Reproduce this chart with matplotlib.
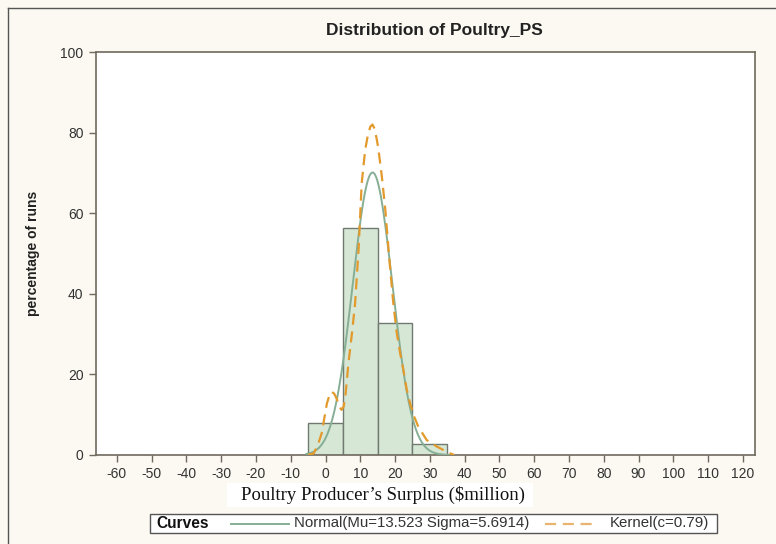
import numpy as np
import matplotlib
matplotlib.use("Agg")
from matplotlib import pyplot as plt
from matplotlib.patches import Rectangle
from matplotlib.lines import Line2D

plt.rcParams['axes.unicode_minus'] = False

# histogram (percent of runs per 10-unit bin)
bin_centers = [0, 10, 20, 30]
pct = [8.0, 56.4, 32.8, 2.8]
bin_width = 10

# fitted normal
mu = 13.523
sigma = 5.6914

# kernel curve
kern_x = [-5.0, -3.4, -2.2, -1.1, 0.4, 1.2, 1.8, 2.5, 3.2, 4.0, 4.6, 5.2, 5.7, 6.6,
          7.6, 8.5, 9.5, 10.4, 11.4, 12.2, 12.9, 13.5, 14.1, 14.7, 15.2, 16.2,
          17.2, 18.3, 19.5, 20.5, 21.4, 22.4, 23.3, 24.3, 25.5, 26.7, 29.1, 32.0,
          35.3, 37.0]
kern_y = [0.0, 0.4, 2.5, 5.4, 12.8, 15.0, 15.7, 15.2, 14.0, 12.0, 11.2, 12.0, 14.5, 22.8,
          30.2, 37.6, 50.9, 67.4, 75.7, 79.5, 81.5, 82.0, 81.0, 78.5, 76.0, 69.1,
          60.8, 49.0, 37.6, 30.2, 25.5, 21.1, 16.5, 12.8, 9.5, 7.0, 3.7, 2.1,
          0.6, 0.0]

xticks = list(range(-60, 121, 10))
yticks = list(range(0, 101, 20))

bg = '#fcf9f2'
W, H = 776, 544
fig = plt.figure(figsize=(W / 100, H / 100), dpi=100, facecolor=bg)
ax = fig.add_axes([96 / W, 1 - 455 / H, (755 - 96) / W, (455 - 52) / H])
ax.set_facecolor('white')

ax.bar(bin_centers, pct, width=bin_width, color='#d6e7d6', edgecolor='#707a70',
       linewidth=1.0, zorder=2)

xn = np.linspace(-5.5, 35.5, 400)
yn = 100 * bin_width * np.exp(-0.5 * ((xn - mu) / sigma) ** 2) / (sigma * np.sqrt(2 * np.pi))
ax.plot(xn, yn, color='#86ae94', linewidth=1.4, zorder=3)
ax.plot(kern_x, kern_y, color='#e39a2c', linewidth=1.6, linestyle=(0, (5, 3)), zorder=4)

ax.set_xlim(-66.0, 123.5)
ax.set_ylim(0, 100)
ax.set_xticks(xticks)
ax.set_yticks(yticks)
ax.tick_params(direction='out', length=5, width=1, color='#6e6a5e',
               labelsize=10, labelcolor='#333333')
ax.tick_params(axis='x', pad=4)
ax.tick_params(axis='y', pad=4)
for lab in ax.get_xticklabels() + ax.get_yticklabels():
    lab.set_family('Liberation Sans')
for s in ax.spines.values():
    s.set_color('#6e6a5e')
    s.set_linewidth(1.2)

fig.text(434 / W, 1 - 30 / H, 'Distribution of Poultry_PS', ha='center', va='center',
         fontsize=12.5, fontweight='bold', family='Liberation Sans', color='#222222')
fig.text(33 / W, 1 - 253 / H, 'percentage of runs', rotation=90, ha='center', va='center',
         fontsize=10, fontweight='bold', family='Liberation Sans', color='#222222')

# x label on a white strip
fig.patches.append(Rectangle((227 / W, 1 - 507 / H), (533 - 227) / W, 24 / H,
                             transform=fig.transFigure, facecolor='white', edgecolor='none'))
fig.text(383 / W, 1 - 495 / H, 'Poultry Producer\u2019s Surplus ($million)', ha='center',
         va='center', fontsize=13.5, family='Liberation Serif', color='#111111')

# legend box
fig.patches.append(Rectangle((150 / W, 1 - 533 / H), (717 - 150) / W, 19 / H,
                             transform=fig.transFigure, facecolor='white',
                             edgecolor='#555555', linewidth=1.0))
ly = 1 - 523.5 / H
lb = 1 - 527.5 / H
fig.text(156 / W, lb, 'Curves', ha='left', va='baseline', fontsize=11.2, fontweight='bold',
         family='Liberation Sans', color='#111111')
fig.lines.append(Line2D([231 / W, 289 / W], [ly, ly], transform=fig.transFigure,
                        color='#86ae94', linewidth=1.4))
fig.text(294 / W, lb, 'Normal(Mu=13.523 Sigma=5.6914)', ha='left', va='baseline',
         fontsize=10.8, family='Liberation Sans', color='#333333')
fig.lines.append(Line2D([545 / W, 598 / W], [ly, ly], transform=fig.transFigure,
                        color='#e8b470', linewidth=1.6, linestyle=(0, (5, 3))))
fig.text(610 / W, lb, 'Kernel(c=0.79)', ha='left', va='baseline', fontsize=10.8,
         family='Liberation Sans', color='#333333')

# outer frame
fig.lines.append(Line2D([8 / W, 8 / W], [0, 1 - 8 / H], transform=fig.transFigure,
                        color='#555555', linewidth=1.0))
fig.lines.append(Line2D([8 / W, 1], [1 - 8 / H, 1 - 8 / H], transform=fig.transFigure,
                        color='#555555', linewidth=1.0))

fig.savefig('out.png', dpi=100, facecolor=bg)
